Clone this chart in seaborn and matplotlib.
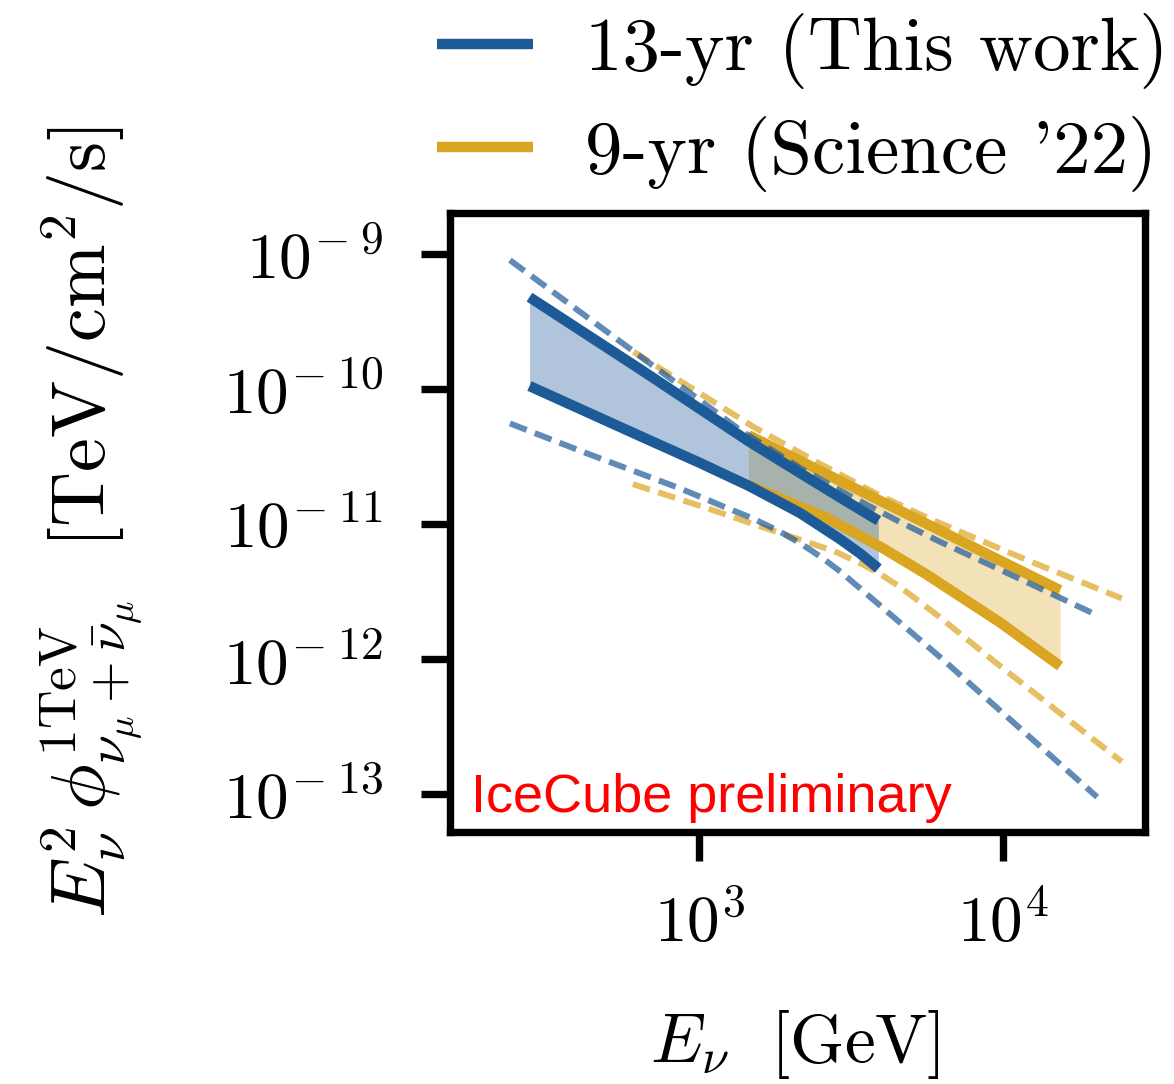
import numpy as np
import pandas as pd
import seaborn as sns
import matplotlib
matplotlib.use("Agg")
import matplotlib.pyplot as plt
from matplotlib.lines import Line2D
from matplotlib.ticker import FuncFormatter, NullLocator

# ---------------- data ----------------
# 13-yr (This work) butterfly band
e_13 = [276, 639, 1008, 1454, 2152, 2915, 3393, 3898]
up_13 = [4.76e-10, 1.393e-10, 7.05e-11, 4.08e-11, 2.37e-11, 1.56e-11, 1.27e-11, 1.052e-11]
lo_13 = [1.045e-10, 4.45e-11, 2.81e-11, 1.91e-11, 1.197e-11, 7.67e-12, 6.0e-12, 4.65e-12]

# 13-yr dashed envelopes
e_13_dash_up = [238, 570, 1365, 2152, 3145, 4596, 6223, 9813, 20440]
f_13_dash_up = [8.95e-10, 2.10e-10, 4.93e-11, 2.58e-11, 1.60e-11, 1.026e-11,
                7.33e-12, 4.56e-12, 2.10e-12]
e_13_dash_lo = [238, 427, 866, 1173, 1506, 1834, 2163, 2537, 2931, 3949, 6252, 20490]
f_13_dash_lo = [5.52e-11, 3.31e-11, 1.82e-11, 1.37e-11, 1.089e-11, 8.79e-12,
                7.11e-12, 5.60e-12, 4.38e-12, 2.47e-12, 1.016e-12, 9.42e-14]

# 9-yr (Science '22) butterfly band
e_9 = [1454, 2636, 4000, 5623, 9813, 15470]
up_9 = [4.52e-11, 2.32e-11, 1.455e-11, 9.95e-12, 5.33e-12, 3.21e-12]
lo_9 = [1.93e-11, 1.10e-11, 6.64e-12, 4.19e-12, 1.85e-12, 8.79e-13]

# 9-yr dashed envelopes
e_9_dash_up = [608, 1008, 1510, 2412, 3949, 5627, 8013, 12020, 24710]
f_9_dash_up = [1.875e-10, 9.20e-11, 5.21e-11, 2.90e-11, 1.61e-11, 1.11e-11,
               7.91e-12, 5.37e-12, 2.79e-12]
e_9_dash_lo = [605, 1063, 1472, 2152, 2785, 3393, 3949, 4596, 6085, 9448, 24710]
f_9_dash_lo = [1.96e-11, 1.30e-11, 1.01e-11, 7.60e-12, 6.25e-12, 5.09e-12,
               4.23e-12, 3.39e-12, 2.10e-12, 9.42e-13, 1.72e-13]

labels = ["13-yr (This work)", "9-yr (Science '22)"]
x_ticks = [1e3, 1e4]
y_ticks = [1e-13, 1e-12, 1e-11, 1e-10, 1e-9]

# ---------------- style ----------------
sns.set_theme(style="ticks")
plt.rcParams["mathtext.fontset"] = "cm"
plt.rcParams["font.family"] = ["DejaVu Serif"]
for k in ["text.color", "axes.labelcolor", "xtick.color", "ytick.color",
          "axes.edgecolor"]:
    plt.rcParams[k] = "black"

BLUE = "#1d5a98"
GOLD = "#daa520"

fig = plt.figure(figsize=(11.74, 10.84), dpi=100)
ax = fig.add_axes([0.3833, 0.2325, 0.592, 0.571])
ax.set_xscale("log")
ax.set_yscale("log")

def dashed(x, y, color):
    sns.lineplot(x=x, y=y, ax=ax, color=color, alpha=0.7, lw=4.3,
                 linestyle=(0, (3.0, 1.45)), estimator=None)

def solid(x, y, color):
    sns.lineplot(x=x, y=y, ax=ax, color=color, lw=7.5, estimator=None,
                 solid_capstyle="butt", solid_joinstyle="round")

# 9-yr first
ax.fill_between(e_9, lo_9, up_9, color=GOLD, alpha=0.32, lw=0)
solid(e_9, up_9, GOLD)
solid(e_9, lo_9, GOLD)
dashed(e_9_dash_up, f_9_dash_up, GOLD)
dashed(e_9_dash_lo, f_9_dash_lo, GOLD)

# 13-yr
ax.fill_between(e_13, lo_13, up_13, color=BLUE, alpha=0.35, lw=0)
solid(e_13, up_13, BLUE)
solid(e_13, lo_13, BLUE)
dashed(e_13_dash_up, f_13_dash_up, BLUE)
dashed(e_13_dash_lo, f_13_dash_lo, BLUE)

ax.set_xlim(151, 29470)
ax.set_ylim(5.19e-14, 2.0e-9)

ax.set_xticks(x_ticks)
ax.set_yticks(y_ticks)
ax.xaxis.set_minor_locator(NullLocator())
ax.yaxis.set_minor_locator(NullLocator())
ax.xaxis.set_major_formatter(FuncFormatter(
    lambda v, p: r"$10^{%d}$" % int(round(np.log10(v)))))
ax.yaxis.set_major_formatter(FuncFormatter(
    lambda v, p: r"$10^{-\;%d}$" % int(round(-np.log10(v)))))

for s in ax.spines.values():
    s.set_linewidth(5.3)
    s.set_color("black")
    s.set_visible(True)
ax.tick_params(axis="both", which="major", length=21, width=5.3,
               color="black", labelcolor="black", labelsize=47, direction="out")
ax.tick_params(axis="x", pad=22)
ax.tick_params(axis="y", pad=27)

ax.set_xlabel(r"$E_\nu\ \ [\mathrm{GeV}]$", fontsize=50)
ax.xaxis.set_label_coords(0.496, -0.285)
ax.set_ylabel(r"$E_\nu^2\,\phi^{1\mathrm{TeV}}_{\nu_\mu+\bar{\nu}_\mu}\ \ "
              r"[\mathrm{TeV}/\mathrm{cm}^2/\mathrm{s}]$", fontsize=55)
ax.yaxis.set_label_coords(-0.44, 0.5)

ax.text(0.030, 0.0323, "IceCube preliminary", transform=ax.transAxes,
        color="red", fontsize=39, family="Liberation Sans", va="baseline")

handles = [Line2D([], [], color=BLUE, lw=7.5, solid_capstyle="butt"),
           Line2D([], [], color=GOLD, lw=7.5, solid_capstyle="butt")]
leg = fig.legend(handles, labels, loc="upper left",
                 bbox_to_anchor=(0.3659, 0.9945), frameon=False,
                 prop={"family": "cmr10", "size": 54},
                 handlelength=1.28, handletextpad=0.69, labelspacing=0.36,
                 borderpad=0.1, borderaxespad=0)

fig.savefig("out.png", dpi=100)
